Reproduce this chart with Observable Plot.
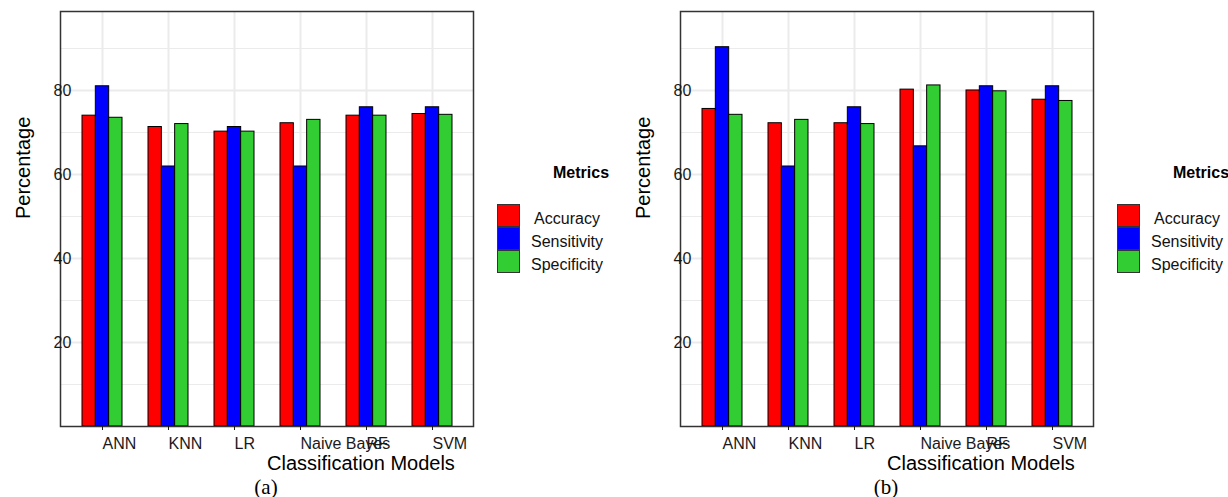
<!DOCTYPE html>
<html>
<head>
<meta charset="utf-8">
<script src="https://cdn.jsdelivr.net/npm/d3@7"></script>
<script src="https://cdn.jsdelivr.net/npm/@observablehq/plot@0.6"></script>
<style>
  html, body { margin: 0; padding: 0; background: #fff; }
  #root { position: relative; width: 1228px; height: 497px; overflow: hidden; font-family: "Liberation Sans", Arial, sans-serif; }
  .panel { position: absolute; top: 0; width: 620px; height: 497px; }
  .panel svg { position: absolute; left: 0; top: 0; }
  .legend-title { position: absolute; left: 553px; top: 163px; font-size: 16px; font-weight: bold; color: #000; line-height: 20px; }
  .key { position: absolute; left: 497px; width: 21px; height: 21px; border: 1px solid #333; }
  .klabel { position: absolute; width: 100px; margin-left: -50px; left: 567px; font-size: 16px; text-align: center; line-height: 20px; color: #111; }
  .caption { position: absolute; left: 216px; width: 100px; text-align: center; top: 475px; font-family: "Liberation Serif", "Times New Roman", serif; font-size: 21px; line-height: 24px; color: #000; }
</style>
</head>
<body>
<div id="root"></div>
<script>
// ---- data ----
const models = ["ANN", "KNN", "LR", "Naive Bayes", "RF", "SVM"];
const metrics = ["Accuracy", "Sensitivity", "Specificity"];
const metricColors = ["#FF0000", "#0000FF", "#32CD32"];
const yTicks = [20, 40, 60, 80];
const yMinorTicks = [10, 30, 50, 70, 90];

const accuracyA    = [74.0, 71.3, 70.2, 72.2, 74.0, 74.4];
const sensitivityA = [81.0, 61.9, 71.3, 61.9, 76.0, 76.0];
const specificityA = [73.5, 72.0, 70.2, 73.0, 74.0, 74.2];

const accuracyB    = [75.6, 72.2, 72.2, 80.2, 80.0, 77.8];
const sensitivityB = [90.3, 61.9, 76.0, 66.7, 81.0, 81.0];
const specificityB = [74.2, 73.0, 72.0, 81.2, 79.8, 77.5];

const panels = [
  {caption: "(a)", series: [accuracyA, sensitivityA, specificityA]},
  {caption: "(b)", series: [accuracyB, sensitivityB, specificityB]}
];

// ---- layout ----
const W = 480, H = 477, mL = 60, mR = 7, mT = 11, mB = 51;
const padIn = 0.4, padOut = 0.3;
const step = (W - mL - mR) / (models.length - padIn + 2 * padOut);
const bw = step * (1 - padIn);
const third = bw / 3;

const root = document.getElementById("root");

panels.forEach((p, pi) => {
  const div = document.createElement("div");
  div.className = "panel";
  div.style.left = (pi * 620) + "px";
  root.appendChild(div);

  const barMarks = metrics.map((m, i) => {
    const rows = models.map((model, j) => ({model, metric: m, value: p.series[i][j]}));
    return Plot.barY(rows, {
      x: "model", y: "value",
      fill: metricColors[i], stroke: "#000", strokeWidth: 1,
      insetLeft: i * third, insetRight: (2 - i) * third
    });
  });

  const chart = Plot.plot({
    width: W, height: H,
    marginLeft: mL, marginRight: mR, marginTop: mT, marginBottom: mB,
    style: {fontFamily: "'Liberation Sans', Arial, sans-serif", fontSize: "16px", color: "#1a1a1a", background: "#fff"},
    x: {domain: models, paddingInner: padIn, paddingOuter: padOut},
    y: {domain: [0, 98.8]},
    marks: [
      Plot.gridY(yMinorTicks, {stroke: "#ebebeb", strokeOpacity: 1, strokeWidth: 1}),
      Plot.gridY(yTicks, {stroke: "#ebebeb", strokeOpacity: 1, strokeWidth: 2}),
      Plot.gridX(models, {stroke: "#ebebeb", strokeOpacity: 1, strokeWidth: 2}),
      ...barMarks,
      Plot.frame({stroke: "#333", strokeWidth: 1.5}),
      Plot.axisX(models, {tickSize: 4, tickPadding: 7, textAnchor: "start", label: null, fontSize: 16}),
      Plot.axisY(yTicks, {tickSize: 0, tickPadding: 0, textAnchor: "start", dx: -7, label: null, fontSize: 16}),
      Plot.text(["Classification Models"], {frameAnchor: "bottom", textAnchor: "start", dy: 43, fontSize: 20, fill: "#000"}),
      Plot.text(["Percentage"], {frameAnchor: "left", textAnchor: "start", rotate: -90, dx: -37, fontSize: 20, fill: "#000"})
    ]
  });
  div.appendChild(chart);

  const t = document.createElement("div");
  t.className = "legend-title";
  t.textContent = "Metrics";
  div.appendChild(t);

  metrics.forEach((m, i) => {
    const k = document.createElement("div");
    k.className = "key";
    k.style.top = (204 + i * 23) + "px";
    k.style.background = metricColors[i];
    div.appendChild(k);
    const l = document.createElement("div");
    l.className = "klabel";
    l.style.top = (209 + i * 23) + "px";
    l.textContent = m;
    div.appendChild(l);
  });

  const c = document.createElement("div");
  c.className = "caption";
  c.textContent = p.caption;
  div.appendChild(c);
});
</script>
</body>
</html>
